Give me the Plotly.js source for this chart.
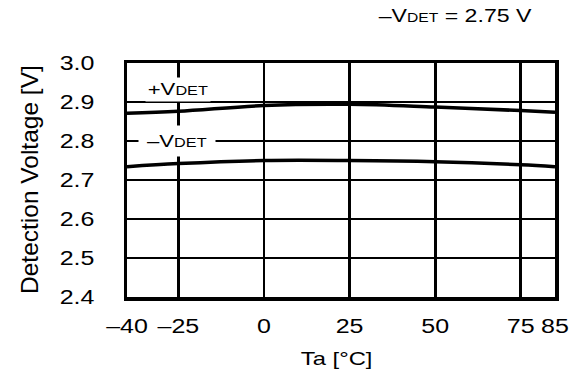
<!DOCTYPE html>
<html>
<head>
<meta charset="utf-8">
<script src="https://cdn.plot.ly/plotly-3.0.1.min.js"></script>
<style>html,body{margin:0;padding:0;background:#fff;}#chart{width:576px;height:374px;}</style>
</head>
<body>
<div id="chart"></div>
<script>
// Data
var temperatures = [-40, -25, 0, 25, 50, 75, 85];
var vdetPlus  = [2.871, 2.876, 2.891, 2.894, 2.887, 2.878, 2.874];
var vdetMinus = [2.734, 2.742, 2.750, 2.750, 2.747, 2.739, 2.734];
var xTickVals = [-40, -25, 0, 25, 50, 75, 85];
var xTickText = ['\u201340', '\u201325', '0', '25', '50', '75', '85'];
var yTickVals = [2.4, 2.5, 2.6, 2.7, 2.8, 2.9, 3.0];

var FONT = 'Liberation Sans, Arial, sans-serif';
var SUB = function(s, px){ return '<span style="font-size:' + px + 'px">' + s + '</span>'; };

var traces = [
  {x: temperatures, y: vdetPlus, mode: 'lines', line: {color: '#000', width: 3.5, shape: 'spline', smoothing: 1}, hoverinfo: 'skip'},
  {x: temperatures, y: vdetMinus, mode: 'lines', line: {color: '#000', width: 3.5, shape: 'spline', smoothing: 1}, hoverinfo: 'skip'}
];

var layout = {
  width: 576, height: 374,
  margin: {l: 127, r: 21, t: 63, b: 77, pad: 0},
  paper_bgcolor: '#fff', plot_bgcolor: '#fff',
  showlegend: false,
  font: {family: FONT, size: 20, color: '#000'},
  xaxis: {
    range: [-40, 85], tickmode: 'array', tickvals: xTickVals, ticktext: xTickText,
    showgrid: true, gridcolor: '#000', gridwidth: 2.7,
    showline: true, linecolor: '#000', linewidth: 3.5, mirror: true,
    zeroline: false, ticks: '', ticklabelstandoff: 8,
    tickfont: {family: FONT, size: 20, color: '#000'}
  },
  yaxis: {
    range: [2.4, 3.0], tickmode: 'array', tickvals: yTickVals,
    ticktext: yTickVals.map(function(v){return v.toFixed(1);}),
    showgrid: true, gridcolor: '#000', gridwidth: 1.7,
    showline: true, linecolor: '#000', linewidth: 3.5, mirror: true,
    zeroline: false, ticks: '', ticklabelstandoff: 25,
    tickfont: {family: FONT, size: 20, color: '#000'}
  },
  annotations: [
    {xref: 'x', yref: 'y', x: -25, y: 2.933, text: '+V' + SUB('DET', 12.5),
     showarrow: false, bgcolor: '#fff', borderpad: 1, width: 62, height: 21,
     font: {family: FONT, size: 17, color: '#000'}},
    {xref: 'x', yref: 'y', x: -25.5, y: 2.8, text: '\u2013V' + SUB('DET', 12.5),
     showarrow: false, bgcolor: '#fff', borderpad: 3, width: 70, height: 24,
     font: {family: FONT, size: 17, color: '#000'}},
    {xref: 'paper', yref: 'paper', x: 0.767, y: 1.205, xanchor: 'center', yanchor: 'middle',
     text: '\u2013V' + SUB('DET', 12.5) + ' = 2.75 V',
     showarrow: false, font: {family: FONT, size: 18.5, color: '#000'}},
    {xref: 'paper', yref: 'paper', x: 0.49, y: 0, xanchor: 'center', yanchor: 'middle', yshift: -61,
     text: 'Ta [\u00B0C]', showarrow: false, font: {family: FONT, size: 19, color: '#000'}},
    {xref: 'paper', yref: 'paper', x: 0, y: 0.5, xanchor: 'center', yanchor: 'middle', xshift: -98,
     textangle: -90, text: 'Detection Voltage [V]', showarrow: false,
     font: {family: FONT, size: 24.5, color: '#000'}}
  ]
};

function stretchText(nodes, k) {
  nodes.forEach(function(t){
    var w = t.getComputedTextLength();
    if (w > 0) {
      t.setAttribute('textLength', (w * k).toFixed(2));
      t.setAttribute('lengthAdjust', 'spacingAndGlyphs');
    }
  });
}

Plotly.newPlot('chart', traces, layout, {displayModeBar: false, staticPlot: true}).then(function(gd){
  stretchText(gd.querySelectorAll('.xtick text, .ytick text'), 1.25);
  [0, 1, 2, 3].forEach(function(i){
    stretchText(gd.querySelectorAll('.annotation[data-index="' + i + '"] .annotation-text'), i < 2 ? 1.3 : 1.25);
  });
});
</script>
</body>
</html>
